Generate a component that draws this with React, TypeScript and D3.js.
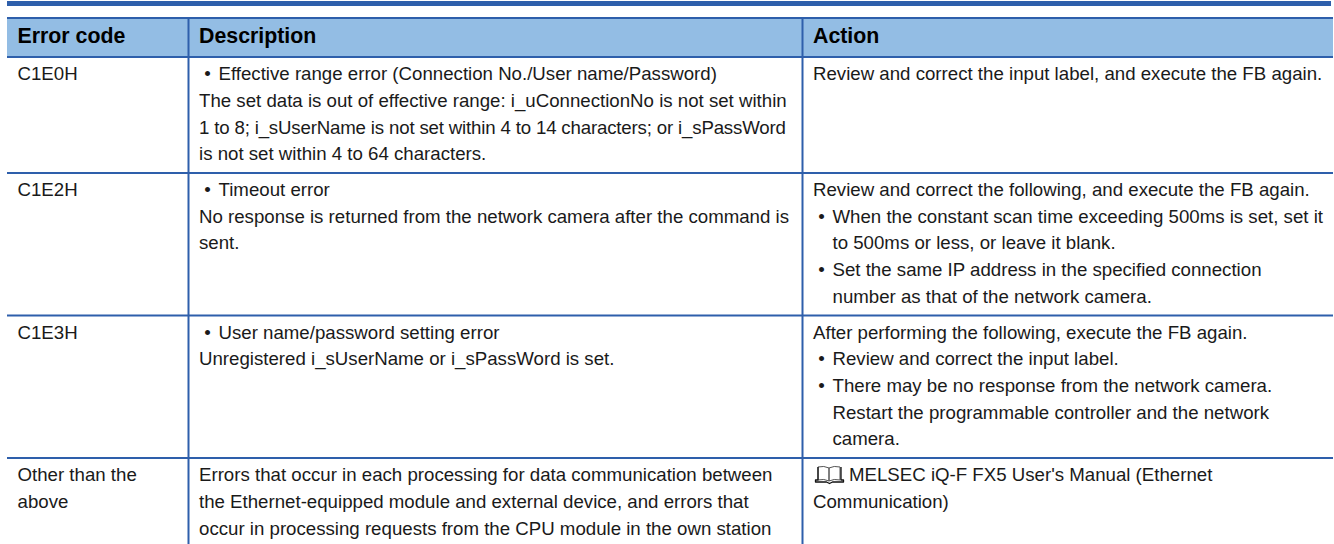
import React from 'react';
import * as d3 from 'd3';

const columns = ['Error code', 'Description', 'Action'];
const errorCodes = [['C1E0H'], ['C1E2H'], ['C1E3H'], ['Other than the', 'above']];
// "* " starts a bullet, "  " continues one, "@ " follows the manual icon, "~ " is a tighter line
const descriptions = [
  [
    '* Effective range error (Connection No./User name/Password)',
    'The set data is out of effective range: i_uConnectionNo is not set within',
    '~ 1 to 8; i_sUserName is not set within 4 to 14 characters; or i_sPassWord',
    'is not set within 4 to 64 characters.',
  ],
  [
    '* Timeout error',
    'No response is returned from the network camera after the command is',
    'sent.',
  ],
  ['* User name/password setting error', 'Unregistered i_sUserName or i_sPassWord is set.'],
  [
    'Errors that occur in each processing for data communication between',
    'the Ethernet-equipped module and external device, and errors that',
    'occur in processing requests from the CPU module in the own station',
  ],
];
const actions = [
  ['Review and correct the input label, and execute the FB again.'],
  [
    'Review and correct the following, and execute the FB again.',
    '* When the constant scan time exceeding 500ms is set, set it',
    '  to 500ms or less, or leave it blank.',
    '* Set the same IP address in the specified connection',
    '  number as that of the network camera.',
  ],
  [
    'After performing the following, execute the FB again.',
    '* Review and correct the input label.',
    '* There may be no response from the network camera.',
    '  Restart the programmable controller and the network',
    '  camera.',
  ],
  ["@ MELSEC iQ-F FX5 User's Manual (Ethernet", 'Communication)'],
];
const rowLines = [4, 5, 5, 3];

const BLUE = '#2e5fab';
const width = 1334;
const height = 544;
const fontSize = 18.67;

const x = d3.scaleOrdinal<string, number>().domain(columns).range([7, 188.5, 802.5]);
const lineY = d3.scaleLinear().domain([0, 1]).range([0, 26.67]);
const rowTops = [57, ...Array.from(d3.cumsum(rowLines, (n) => lineY(n) + 9.2), (d) => d + 57)];

const Cell = ({ left, top, lines }: { left: number; top: number; lines: string[] }) => (
  <g>
    {lines.map((t, k) => {
      const y = top + 23.2 + lineY(k);
      const kind = t.slice(0, 2);
      if (kind === '* ' || kind === '  ') {
        return (
          <g key={k}>
            {kind === '* ' && (
              <text x={left + 5.2} y={y}>
                •
              </text>
            )}
            <text x={left + 19.5} y={y}>
              {t.slice(2)}
            </text>
          </g>
        );
      }
      if (kind === '@ ') {
        return (
          <text key={k} x={left + 36} y={y}>
            {t.slice(2)}
          </text>
        );
      }
      if (kind === '~ ') {
        return (
          <text key={k} x={left} y={y} letterSpacing={-0.17}>
            {t.slice(2)}
          </text>
        );
      }
      return (
        <text key={k} x={left} y={y}>
          {t}
        </text>
      );
    })}
  </g>
);

const App = () => {
  const iconX = x('Action') + 12.5;
  const iconY = rowTops[3] + 7;
  return (
    <svg
      width={width}
      height={height}
      style={{ position: 'absolute', left: 0, top: 0, background: '#fff' }}
      fontFamily="Liberation Sans, Arial, sans-serif"
      fontSize={fontSize}
      fill="#1a1a1a"
    >
      <rect x={7} y={1} width={1324} height={5} fill={BLUE} />
      <rect x={7} y={17} width={1326} height={40} fill="#93bde4" />
      <rect x={7} y={17} width={1326} height={2} fill={BLUE} />
      {columns.map((c) => (
        <text key={c} x={x(c) + 10.5} y={42.5} fontWeight="bold" fontSize={21.33} fill="#000">
          {c}
        </text>
      ))}
      {rowTops.slice(0, 4).map((top, i) => (
        <line key={i} x1={7} x2={1333} y1={top} y2={top} stroke={BLUE} strokeWidth={2} />
      ))}
      {columns.slice(1).map((c) => (
        <line key={c} x1={x(c)} x2={x(c)} y1={18} y2={height} stroke={BLUE} strokeWidth={2} />
      ))}
      {[errorCodes, descriptions, actions].map((col, j) =>
        col.map((lines, r) => (
          <Cell key={`${j}-${r}`} left={x(columns[j]) + 10.5} top={rowTops[r]} lines={lines} />
        ))
      )}
      <g transform={`translate(${iconX},${iconY})`} fill="none" strokeLinejoin="round">
        <path d="M3 2q6 -1.5 11 1v13q-5 -2.5 -11 -1z" stroke="#555" strokeWidth={1} />
        <path d="M25 2q-6 -1.5 -11 1v13q5 -2.5 11 -1z" stroke="#555" strokeWidth={1} />
        <path d="M3 2v13h-2.5v2h11l3 1.5l3 -1.5h11v-2h-2.5v-13" stroke="#111" strokeWidth={1.3} />
      </g>
    </svg>
  );
};

export default App;
